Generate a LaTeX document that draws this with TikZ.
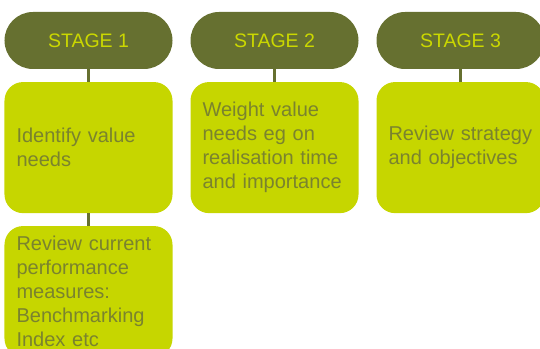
\documentclass[tikz,border=0pt]{standalone}
\usepackage{fontspec}
\setmainfont{Liberation Sans}
\definecolor{olivedark}{HTML}{667030}
\definecolor{limefill}{HTML}{C6D600}
\definecolor{limetext}{HTML}{CBD800}
\definecolor{olivetext}{HTML}{7A832E}
\tikzset{
  stagehead/.style={rectangle, rounded corners=0.95cm, fill=olivedark, text=limetext,
    minimum width=5.6cm, minimum height=1.9cm, font=\fontsize{18.5}{22}\selectfont},
  stagebox/.style={rectangle, rounded corners=0.62cm, fill=limefill, text=olivetext,
    minimum width=5.6cm, minimum height=4.37cm, inner xsep=0.4cm, text width=4.8cm,
    align=left, font=\fontsize{19}{22.8}\selectfont},
  link/.style={draw=olivedark, line width=2.2pt}
}
\begin{document}
\begin{tikzpicture}
\useasboundingbox (0,0) rectangle (18,-11.633);
\clip (0,0) rectangle (18,-11.633);
% stage headers
\node[stagehead] (s1) at (2.95,-1.35) {STAGE 1};
\node[stagehead] (s2) at (9.15,-1.35) {STAGE 2};
\node[stagehead] (s3) at (15.35,-1.35) {STAGE 3};
% tasks under each stage
\node[stagebox] (t1) at (2.95,-4.92) {Identify value\\needs};
\node[stagebox] (t2) at (9.15,-4.92) {Weight value\\needs eg on\\realisation time\\and importance};
\node[stagebox] (t3) at (15.35,-4.92) {Review strategy\\and objectives};
\node[stagebox] (t4) at (2.95,-9.72) {Review current\\performance\\measures:\\Benchmarking\\Index etc};
\draw[link] (s1) -- (t1);
\draw[link] (s2) -- (t2);
\draw[link] (s3) -- (t3);
\draw[link] (t1) -- (t4);
\end{tikzpicture}
\end{document}
